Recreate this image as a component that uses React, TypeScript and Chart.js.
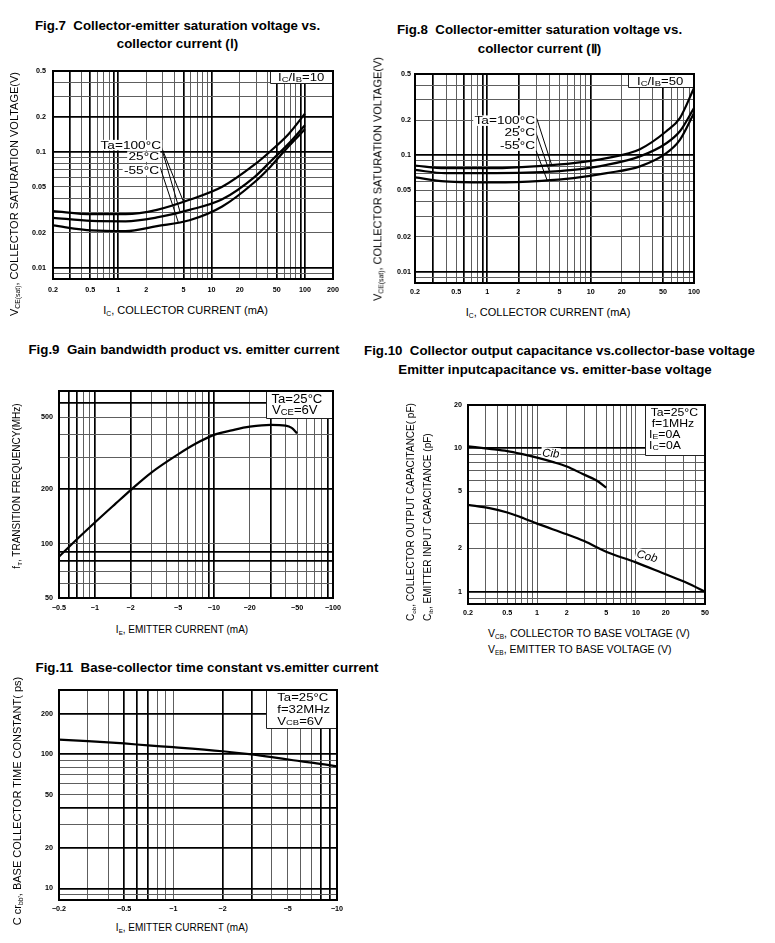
import React, { useEffect, useRef } from "react";
import { Chart, registerables } from "chart.js";

Chart.register(...registerables);

const FONT = '"Liberation Sans", Arial, Helvetica, sans-serif';

// ---------------- Data ----------------
// Fig.7  VCE(sat) vs IC, IC/IB = 10
const fig7Ic = [0.2, 0.52, 1.2, 2.6, 5.8, 13, 29, 43, 67, 100];
const fig7Vce100 = [0.0309, 0.029, 0.029, 0.0316, 0.0386, 0.05, 0.078, 0.102, 0.143, 0.214];
const fig7Vce25 = [0.027, 0.0254, 0.0252, 0.0272, 0.0316, 0.039, 0.061, 0.083, 0.118, 0.17];
const fig7VceM55 = [0.0232, 0.021, 0.0207, 0.0229, 0.0257, 0.0338, 0.055, 0.075, 0.112, 0.157];
const fig7XTicks = [0.2, 0.5, 1, 2, 5, 10, 20, 50, 100, 200];
const fig7YTicks = [0.01, 0.02, 0.05, 0.1, 0.2, 0.5];
const fig7Temps = ["Ta=100°C", "25°C", "-55°C"];
const fig7Ratio = "I_{C}/I_{B}=10";

// Fig.8  VCE(sat) vs IC, IC/IB = 50
const fig8Ic = [0.2, 0.39, 1.19, 3.36, 6.8, 14.3, 30, 54, 73, 100];
const fig8Vce100 = [0.0818, 0.0776, 0.0776, 0.0813, 0.0857, 0.0946, 0.113, 0.161, 0.209, 0.379];
const fig8Vce25 = [0.075, 0.0703, 0.0703, 0.0718, 0.075, 0.0828, 0.098, 0.127, 0.161, 0.255];
const fig8VceM55 = [0.0646, 0.0597, 0.0585, 0.0604, 0.0637, 0.0703, 0.0804, 0.1045, 0.136, 0.231];
const fig8XTicks = [0.2, 0.5, 1, 2, 5, 10, 20, 50, 100];
const fig8YTicks = [0.01, 0.02, 0.05, 0.1, 0.2, 0.5];
const fig8Temps = ["Ta=100°C", "25°C", "-55°C"];
const fig8Ratio = "I_{C}/I_{B}=50";

// Fig.9  fT vs IE (magnitude, mA)
const fig9Ie = [0.5, 0.7, 1, 1.5, 2, 3, 5, 7, 10, 15, 20, 30, 40, 45, 50];
const fig9Ft = [84.6, 105, 131, 167, 198, 248, 312, 357, 400, 428, 444, 455, 450, 437, 408];
const fig9XTicks = [0.5, 1, 2, 5, 10, 20, 50, 100];
const fig9YTicks = [50, 100, 200, 500];
const fig9Box = ["Ta=25°C", "V_{CE}=6V"];

// Fig.10  Cob / Cib vs voltage
const fig10Veb = [0.2, 0.33, 0.5, 0.73, 1, 1.46, 2, 2.9, 4, 5];
const fig10Cib = [10.3, 9.9, 9.55, 9.05, 8.6, 8.0, 7.45, 6.6, 5.95, 5.3];
const fig10Vcb = [0.2, 0.33, 0.5, 0.73, 1, 2, 3, 5, 10, 20, 33, 50];
const fig10Cob = [4.03, 3.82, 3.56, 3.25, 2.98, 2.51, 2.25, 1.9, 1.6, 1.32, 1.15, 1.0];
const fig10XTicks = [0.2, 0.5, 1, 2, 5, 10, 20, 50];
const fig10YTicks = [1, 2, 5, 10, 20];
const fig10Box = ["Ta=25°C", "f=1MHz", "I_{E}=0A", "I_{C}=0A"];
const fig10Curves = ["Cib", "Cob"];

// Fig.11  Cc·rbb' vs IE (magnitude, mA)
const fig11Ie = [0.2, 0.3, 0.5, 0.7, 1, 2, 3, 4, 5.4, 7.2, 10];
const fig11Tau = [128, 125, 120, 116, 112.5, 105, 99.5, 95, 90, 86, 81];
const fig11XTicks = [0.2, 0.5, 1, 2, 5, 10];
const fig11YTicks = [10, 20, 50, 100, 200];
const fig11Box = ["Ta=25°C", "f=32MHz", "V_{CB}=6V"];

// ---------------- helpers ----------------
type Run = { t: string; sub?: boolean };
function parseRuns(s: string): Run[] {
  const out: Run[] = [];
  const re = /_\{([^}]*)\}/g;
  let last = 0;
  let m: RegExpExecArray | null;
  while ((m = re.exec(s))) {
    if (m.index > last) out.push({ t: s.slice(last, m.index) });
    out.push({ t: m[1], sub: true });
    last = re.lastIndex;
  }
  if (last < s.length) out.push({ t: s.slice(last) });
  return out;
}

function logGrid(min: number, max: number): number[] {
  const out: number[] = [];
  for (let e = Math.floor(Math.log10(min)) - 1; e <= Math.ceil(Math.log10(max)); e++) {
    for (let k = 1; k <= 9; k++) {
      const v = Number((k * Math.pow(10, e)).toPrecision(6));
      if (v >= min * (1 - 1e-9) && v <= max * (1 + 1e-9)) out.push(v);
    }
  }
  return out;
}

const has = (arr: number[], v: number) => arr.some((a) => Math.abs(a - v) <= Math.abs(a) * 1e-6);

function interpLog(xs: number[], ys: number[], x: number) {
  for (let i = 0; i < xs.length - 1; i++) {
    if (x >= xs[i] && x <= xs[i + 1]) {
      const t = (Math.log(x) - Math.log(xs[i])) / (Math.log(xs[i + 1]) - Math.log(xs[i]));
      return Math.exp(Math.log(ys[i]) + t * (Math.log(ys[i + 1]) - Math.log(ys[i])));
    }
  }
  return ys[ys.length - 1];
}

type TextOpt = { size: number; sx?: number; align?: "left" | "right"; italic?: boolean; bg?: boolean; rot?: number };
function drawText(ctx: CanvasRenderingContext2D, s: string, x: number, y: number, o: TextOpt) {
  const runs = parseRuns(s);
  const sx = o.sx ?? 1;
  const font = (sz: number) => `${o.italic ? "italic " : ""}${sz}px ${FONT}`;
  let w = 0;
  for (const r of runs) {
    ctx.font = font(r.sub ? o.size * 0.72 : o.size);
    w += ctx.measureText(r.t).width;
  }
  ctx.save();
  ctx.translate(x, y);
  if (o.rot) ctx.rotate((o.rot * Math.PI) / 180);
  ctx.scale(sx, 1);
  let cx = o.align === "right" ? -w : 0;
  if (o.bg) {
    ctx.fillStyle = "#fff";
    ctx.fillRect(cx - 1, -o.size * 0.82, w + 2, o.size * 1.0);
  }
  ctx.fillStyle = "#000";
  ctx.textBaseline = "alphabetic";
  ctx.textAlign = "left";
  for (const r of runs) {
    const sz = r.sub ? o.size * 0.72 : o.size;
    ctx.font = font(sz);
    ctx.fillText(r.t, cx, r.sub ? o.size * 0.06 : 0);
    cx += ctx.measureText(r.t).width;
  }
  ctx.restore();
}

type Area = { left: number; top: number; right: number; bottom: number };
function cornerBox(ctx: CanvasRenderingContext2D, a: Area, w: number, h: number) {
  ctx.save();
  ctx.fillStyle = "#fff";
  ctx.fillRect(a.right - w, a.top, w, h);
  ctx.strokeStyle = "#222";
  ctx.lineWidth = 1;
  ctx.beginPath();
  ctx.moveTo(a.right - w + 0.5, a.top);
  ctx.lineTo(a.right - w + 0.5, a.top + h + 0.5);
  ctx.lineTo(a.right, a.top + h + 0.5);
  ctx.stroke();
  ctx.restore();
}

function leader(ctx: CanvasRenderingContext2D, chart: any, x0: number, y0: number, xv: number, xs: number[], ys: number[]) {
  const px = chart.scales.x.getPixelForValue(xv);
  const py = chart.scales.y.getPixelForValue(interpLog(xs, ys, xv));
  ctx.save();
  ctx.strokeStyle = "#000";
  ctx.lineWidth = 1;
  ctx.beginPath();
  ctx.moveTo(x0, y0);
  ctx.lineTo(px, py);
  ctx.stroke();
  ctx.restore();
}

// ---------------- chart specs ----------------
type Series = { x: number[]; y: number[] };
type Spec = {
  frame: [number, number, number, number];
  xRange: [number, number];
  yRange: [number, number];
  xTicks: number[];
  yTicks: number[];
  xFmt: (v: number) => string;
  yFmt: (v: number) => string;
  xHeavy: number[];
  yHeavy: number[];
  series: Series[];
  xPad: number;
  yPad: number;
  under: (ctx: CanvasRenderingContext2D, a: Area, chart: any) => void;
};

const plain = (v: number) => String(v);
const neg = (v: number) => "\u2212" + String(v);

const ML = 40, MR = 16, MT = 6, MB = 20;

const specs: Spec[] = [
  {
    frame: [53, 71, 333, 279],
    xRange: [0.2, 200],
    yRange: [0.008, 0.5],
    xTicks: fig7XTicks,
    yTicks: fig7YTicks,
    xFmt: plain,
    yFmt: plain,
    xHeavy: [0.3, 0.5, 0.9, 1, 5, 10, 50, 90, 100],
    yHeavy: [0.01, 0.1, 0.2],
    series: [
      { x: fig7Ic, y: fig7Vce100 },
      { x: fig7Ic, y: fig7Vce25 },
      { x: fig7Ic, y: fig7VceM55 },
    ],
    xPad: 6.5,
    yPad: 7,
    under: (ctx, a, chart) => {
      cornerBox(ctx, a, 63, 12);
      drawText(ctx, fig7Ratio, a.left + 225, a.top + 10, { size: 10.5, sx: 1.25 });
      const ys = [fig7Vce100, fig7Vce25, fig7VceM55];
      const starts = [[106, 70], [110, 82], [107, 96]];
      const ends = [5.0, 4.6, 4.4];
      ys.forEach((y, i) => leader(ctx, chart, a.left + starts[i][0], a.top + starts[i][1], ends[i], fig7Ic, y));
      const rx = [108, 106, 106];
      const by = [77.5, 89, 102.5];
      fig7Temps.forEach((t, i) => drawText(ctx, t, a.left + rx[i], a.top + by[i], { size: 10.5, sx: 1.3, align: "right", bg: true }));
    },
  },
  {
    frame: [415, 74, 694, 283],
    xRange: [0.2, 100],
    yRange: [0.008, 0.5],
    xTicks: fig8XTicks,
    yTicks: fig8YTicks,
    xFmt: plain,
    yFmt: plain,
    xHeavy: [0.3, 0.6, 0.9, 1, 2, 10, 50, 100],
    yHeavy: [0.01, 0.1],
    series: [
      { x: fig8Ic, y: fig8Vce100 },
      { x: fig8Ic, y: fig8Vce25 },
      { x: fig8Ic, y: fig8VceM55 },
    ],
    xPad: 5,
    yPad: 4,
    under: (ctx, a, chart) => {
      cornerBox(ctx, a, 66, 13);
      drawText(ctx, fig8Ratio, a.left + 222, a.top + 11, { size: 10.5, sx: 1.25 });
      const ys = [fig8Vce100, fig8Vce25, fig8VceM55];
      const starts = [[121.7, 44.3], [120, 56], [118.3, 69.3]];
      const ends = [4.2, 4.0, 3.8];
      ys.forEach((y, i) => leader(ctx, chart, a.left + starts[i][0], a.top + starts[i][1], ends[i], fig8Ic, y));
      const by = [50, 62.3, 75];
      fig8Temps.forEach((t, i) => drawText(ctx, t, a.left + 120, a.top + by[i], { size: 10.5, sx: 1.3, align: "right", bg: true }));
    },
  },
  {
    frame: [59, 391, 333, 598],
    xRange: [0.5, 100],
    yRange: [50, 700],
    xTicks: fig9XTicks,
    yTicks: fig9YTicks,
    xFmt: neg,
    yFmt: plain,
    xHeavy: [0.6, 0.7, 1, 2, 9, 10, 30, 90],
    yHeavy: [80, 90, 200, 600],
    series: [{ x: fig9Ie, y: fig9Ft }],
    xPad: 6,
    yPad: 6,
    under: (ctx, a) => {
      cornerBox(ctx, a, 67, 27);
      const bx = [212.5, 213];
      const by = [12.3, 23.3];
      fig9Box.forEach((t, i) => drawText(ctx, t, a.left + bx[i], a.top + by[i], { size: 12.5, sx: 1.05 }));
    },
  },
  {
    frame: [468, 405, 705, 604],
    xRange: [0.2, 50],
    yRange: [0.82, 20],
    xTicks: fig10XTicks,
    yTicks: fig10YTicks,
    xFmt: plain,
    yFmt: plain,
    xHeavy: [],
    yHeavy: [1, 10],
    series: [
      { x: fig10Veb, y: fig10Cib },
      { x: fig10Vcb, y: fig10Cob },
    ],
    xPad: 5,
    yPad: 6,
    under: (ctx, a) => {
      cornerBox(ctx, a, 60, 50);
      const bx = [182.7, 183.7, 181, 181];
      const by = [11.3, 22.3, 33, 44];
      fig10Box.forEach((t, i) => drawText(ctx, t, a.left + bx[i], a.top + by[i], { size: 10.2, sx: 1.2 }));
      drawText(ctx, fig10Curves[0], a.left + 74, a.top + 51.5, { size: 11.5, italic: true, bg: true, rot: 4 });
      drawText(ctx, fig10Curves[1], a.left + 168, a.top + 152, { size: 11.5, italic: true, bg: true, rot: 15 });
    },
  },
  {
    frame: [59, 690, 337, 900],
    xRange: [0.2, 10],
    yRange: [8.2, 300],
    xTicks: fig11XTicks,
    yTicks: fig11YTicks,
    xFmt: neg,
    yFmt: plain,
    xHeavy: [0.5, 0.6, 0.7, 2, 3, 8, 9],
    yHeavy: [10, 20, 40, 100, 200],
    series: [{ x: fig11Ie, y: fig11Tau }],
    xPad: 5,
    yPad: 6,
    under: (ctx, a) => {
      cornerBox(ctx, a, 71, 38);
      const by = [11.3, 23, 34.7];
      fig11Box.forEach((t, i) => drawText(ctx, t, a.left + 218.3, a.top + by[i], { size: 10.5, sx: 1.25 }));
    },
  },
];

// ---------------- components ----------------
function Plot({ spec }: { spec: Spec }) {
  const ref = useRef<HTMLCanvasElement>(null);
  const [L, T, R, B] = spec.frame;
  const W = R - L + ML + MR;
  const H = B - T + MT + MB;

  useEffect(() => {
    const canvas = ref.current;
    if (!canvas) return;
    const xGrid = logGrid(spec.xRange[0], spec.xRange[1]);
    const yGrid = logGrid(spec.yRange[0], spec.yRange[1]);
    const gridColor = (heavy: number[]) => (c: any) => (c.tick && has(heavy, c.tick.value) ? "#000" : "#5e5e5e");
    const gridWidth = (heavy: number[]) => (c: any) => (c.tick && has(heavy, c.tick.value) ? 1.7 : 1);
    const tickFont = { family: FONT, size: 7.2, weight: "bold" as const };
    const zeroPad = (s: any) => {
      s.paddingLeft = 0;
      s.paddingRight = 0;
      s.paddingTop = 0;
      s.paddingBottom = 0;
    };
    const decor = {
      id: "decor",
      beforeDatasetsDraw(chart: any) {
        const ctx = chart.ctx as CanvasRenderingContext2D;
        ctx.save();
        spec.under(ctx, chart.chartArea, chart);
        ctx.restore();
      },
      afterDraw(chart: any) {
        const a = chart.chartArea;
        const ctx = chart.ctx as CanvasRenderingContext2D;
        ctx.save();
        ctx.strokeStyle = "#000";
        ctx.lineWidth = 2;
        ctx.strokeRect(a.left, a.top, a.right - a.left, a.bottom - a.top);
        ctx.restore();
      },
    };
    const chart = new Chart(canvas, {
      type: "line",
      data: {
        datasets: spec.series.map((s) => ({
          data: s.x.map((x, i) => ({ x, y: s.y[i] })),
          borderColor: "#000",
          borderWidth: 2.2,
          pointRadius: 0,
          fill: false,
          cubicInterpolationMode: "monotone",
        })),
      },
      options: {
        responsive: false,
        animation: false,
        devicePixelRatio: 1,
        events: [],
        layout: { padding: { left: 0, top: MT, right: MR, bottom: 0 } },
        plugins: { legend: { display: false }, tooltip: { enabled: false }, title: { display: false } },
        scales: {
          x: {
            type: "logarithmic",
            position: "bottom",
            min: spec.xRange[0],
            max: spec.xRange[1],
            bounds: "data",
            afterBuildTicks: (s: any) => {
              s.ticks = xGrid.map((v) => ({ value: v }));
            },
            afterFit: (s: any) => {
              s.height = MB;
              zeroPad(s);
            },
            ticks: {
              autoSkip: false,
              maxRotation: 0,
              minRotation: 0,
              padding: spec.xPad,
              color: "#000",
              font: tickFont,
              callback: (v: any) => (has(spec.xTicks, Number(v)) ? spec.xFmt(Number(v)) : ""),
            },
            grid: { drawTicks: false, color: gridColor(spec.xHeavy), lineWidth: gridWidth(spec.xHeavy) },
            border: { display: false },
          },
          y: {
            type: "logarithmic",
            position: "left",
            min: spec.yRange[0],
            max: spec.yRange[1],
            bounds: "data",
            afterBuildTicks: (s: any) => {
              s.ticks = yGrid.map((v) => ({ value: v }));
            },
            afterFit: (s: any) => {
              s.width = ML;
              zeroPad(s);
            },
            ticks: {
              autoSkip: false,
              padding: spec.yPad,
              color: "#000",
              font: tickFont,
              callback: (v: any) => (has(spec.yTicks, Number(v)) ? spec.yFmt(Number(v)) : ""),
            },
            grid: { drawTicks: false, color: gridColor(spec.yHeavy), lineWidth: gridWidth(spec.yHeavy) },
            border: { display: false },
          },
        },
      },
      plugins: [decor],
    } as any);
    return () => chart.destroy();
  }, []);

  return (
    <canvas
      ref={ref}
      width={W}
      height={H}
      style={{ position: "absolute", left: L - ML, top: T - MT, width: W, height: H }}
    />
  );
}

function Rich({ s }: { s: string }) {
  return (
    <>
      {parseRuns(s).map((r, i) =>
        r.sub ? (
          <span key={i} style={{ fontSize: "0.62em", position: "relative", top: "0.35em" }}>
            {r.t}
          </span>
        ) : (
          <span key={i}>{r.t}</span>
        )
      )}
    </>
  );
}

const titleStyle: React.CSSProperties = {
  position: "absolute",
  fontFamily: FONT,
  fontWeight: "bold",
  fontSize: 13.3,
  lineHeight: "18px",
  whiteSpace: "pre",
  textAlign: "center",
  width: 500,
};

function Title({ cx, top, text }: { cx: number; top: number; text: string }) {
  return <div style={{ ...titleStyle, left: cx - 250, top }}>{text}</div>;
}

function HText({ cx, cy, size, text }: { cx: number; cy: number; size: number; text: string }) {
  return (
    <div
      style={{
        position: "absolute",
        left: cx,
        top: cy,
        transform: "translate(-50%,-50%)",
        fontFamily: FONT,
        fontSize: size,
        lineHeight: "1.2",
        whiteSpace: "pre",
      }}
    >
      <Rich s={text} />
    </div>
  );
}

function VText({ cx, cy, size, lines, width, lh }: { cx: number; cy: number; size: number; lines: string[]; width?: number; lh?: number }) {
  return (
    <div
      style={{
        position: "absolute",
        left: cx,
        top: cy,
        width: width,
        transform: "translate(-50%,-50%) rotate(-90deg)",
        fontFamily: FONT,
        fontSize: size,
        lineHeight: lh ? `${lh}px` : "1.2",
        whiteSpace: "pre",
        textAlign: "left",
      }}
    >
      {lines.map((l, i) => (
        <div key={i}>
          <Rich s={l} />
        </div>
      ))}
    </div>
  );
}

export default function App() {
  return (
    <div
      style={{
        position: "absolute",
        left: 0,
        top: 0,
        width: 775,
        height: 943,
        background: "#fff",
        overflow: "hidden",
        color: "#000",
      }}
    >
      {specs.map((s, i) => (
        <Plot key={i} spec={s} />
      ))}

      <Title cx={177.5} top={17} text={"Fig.7  Collector-emitter saturation voltage vs."} />
      <Title cx={177.5} top={35} text={"collector current (\u2160)"} />
      <VText cx={15} cy={194} size={11} lines={["V_{CE(sat)}, COLLECTOR SATURATION VOLTAGE(V)"]} />
      <HText cx={185.5} cy={311} size={11} text={"I_{C}, COLLECTOR CURRENT (mA)"} />

      <Title cx={539.5} top={21} text={"Fig.8  Collector-emitter saturation voltage vs."} />
      <Title cx={539.5} top={40} text={"collector current (\u2161)"} />
      <VText cx={378} cy={179} size={11} lines={["V_{CE(sat)}, COLLECTOR SATURATION VOLTAGE(V)"]} />
      <HText cx={548} cy={313} size={11} text={"I_{C}, COLLECTOR CURRENT (mA)"} />

      <Title cx={184} top={341} text={"Fig.9  Gain bandwidth product vs. emitter current"} />
      <VText cx={16.5} cy={486} size={10} lines={["f_{T}, TRANSITION FREQUENCY(MHz)"]} />
      <HText cx={182} cy={630} size={10} text={"I_{E}, EMITTER CURRENT (mA)"} />

      <Title cx={559.5} top={341.5} text={"Fig.10  Collector output capacitance vs.collector-base voltage"} />
      <Title cx={555} top={361} text={"Emitter inputcapacitance vs. emitter-base voltage"} />
      <VText
        cx={420}
        cy={506}
        size={10}
        width={230}
        lh={16}
        lines={["C_{ob}, COLLECTOR OUTPUT CAPACITANCE( pF)", "C_{ib}, EMITTER INPUT CAPACITANCE (pF)"]}
      />
      <div
        style={{
          position: "absolute",
          left: 488,
          top: 625.5,
          fontFamily: FONT,
          fontSize: 10.5,
          lineHeight: "15px",
          whiteSpace: "pre",
        }}
      >
        <div>
          <Rich s={"V_{CB}, COLLECTOR TO BASE VOLTAGE (V)"} />
        </div>
        <div>
          <Rich s={"V_{EB}, EMITTER TO BASE VOLTAGE (V)"} />
        </div>
      </div>

      <Title cx={207} top={658.5} text={"Fig.11  Base-collector time constant vs.emitter current"} />
      <VText cx={17.5} cy={801} size={11} lines={["C cr_{bb'}, BASE COLLECTOR TIME CONSTANT( ps)"]} />
      <HText cx={182} cy={928.3} size={10} text={"I_{E}, EMITTER CURRENT (mA)"} />
    </div>
  );
}
